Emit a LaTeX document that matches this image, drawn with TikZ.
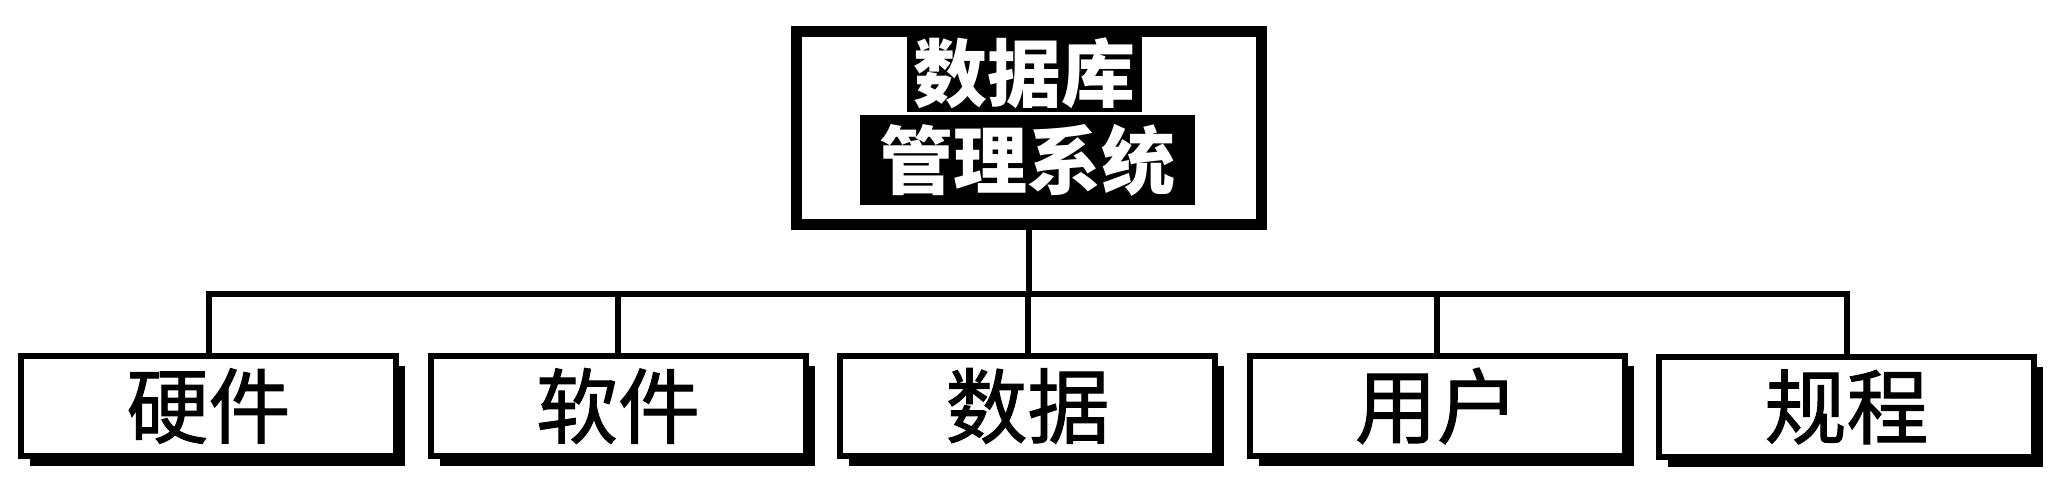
\documentclass[tikz,border=0pt]{standalone}
\usepackage{fontspec}
\newfontfamily\cjk{Noto Sans CJK SC}
\newfontfamily\cjkm[FakeBold=1.2]{Noto Sans CJK SC}
\usetikzlibrary{shadows}
\begin{document}
\begin{tikzpicture}[x=1pt,y=-1pt,
  conn/.style={draw=black, line width=6pt},
  leaf/.style={draw=black, line width=6pt, fill=white, minimum width=375pt, minimum height=100pt, inner sep=0pt,
    font=\cjkm\fontsize{82}{82}\selectfont,
    drop shadow={shadow xshift=9pt, shadow yshift=-10pt, opacity=1, fill=black}},
  topbox/.style={draw=black, line width=11pt, fill=white, minimum width=465pt, minimum height=192pt, inner sep=0pt,
    drop shadow={shadow xshift=0pt, shadow yshift=-5pt, opacity=1, fill=black}},
  inv/.style={fill=black, text=white, inner sep=0pt, font=\cjk\bfseries\fontsize{74}{74}\selectfont}
]
\useasboundingbox[fill=white] (0,0) rectangle (2049,489);
\node[topbox] (top) at (1028.5,128) {};
\node[inv, minimum width=335pt, minimum height=90pt] (row2) at (1027.5,160) {管理系统};
\node[inv, minimum width=235pt, minimum height=77pt] (row1) at (1024.5,73.5) {数据库};
\node[leaf] (b1) at (208.5,406) {硬件};
\node[leaf] (b2) at (618,406) {软件};
\node[leaf] (b3) at (1027.5,406) {数据};
\node[leaf] (b4) at (1437,406) {用户};
\node[leaf] (b5) at (1846.5,407) {规程};
\coordinate (bus) at (0,294);
\draw[conn] (b1.north) -- (b1.north |- bus) -- (b5.north |- bus) -- (b5.north);
\foreach \n in {b2,b3,b4} \draw[conn] (\n.north) -- (\n.north |- bus);
\draw[conn] (top.south) -- (top.south |- bus);
\end{tikzpicture}
\end{document}
